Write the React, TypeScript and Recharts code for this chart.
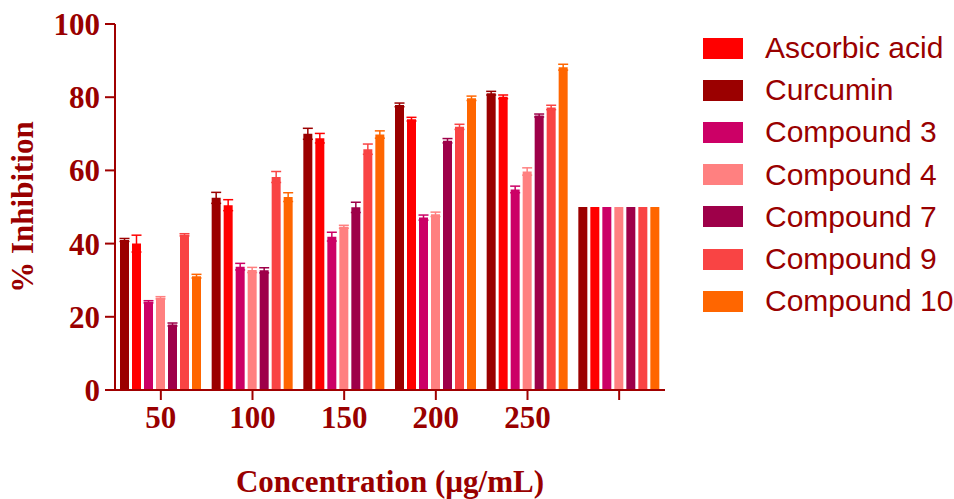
import React from "react";
import { BarChart, Bar, XAxis, YAxis, Legend, ErrorBar, Label } from "recharts";

const categories = ["50", "100", "150", "200", "250", ""];

// bar order left-to-right as drawn in the reference
const curcumin = [41.0, 52.5, 70.0, 77.9, 81.1, 50];
const curcuminErr = [0.4, 1.5, 1.5, 0.5, 0.5, 0];
const ascorbic = [40.0, 50.5, 68.8, 74.0, 80.1, 50];
const ascorbicErr = [2.3, 1.5, 1.3, 0.5, 0.5, 0];
const comp3 = [24.1, 33.7, 41.9, 47.1, 54.8, 50];
const comp3Err = [0.3, 0.9, 1.2, 0.7, 0.9, 0];
const comp4 = [25.2, 32.8, 44.6, 48.0, 59.7, 50];
const comp4Err = [0.3, 0.7, 0.4, 0.6, 1.0, 0];
const comp7 = [17.9, 32.7, 49.9, 68.1, 75.0, 50];
const comp7Err = [0.4, 0.7, 1.4, 0.6, 0.4, 0];
const comp9 = [42.4, 58.2, 65.8, 71.9, 77.2, 50];
const comp9Err = [0.3, 1.5, 1.4, 0.7, 0.6, 0];
const comp10 = [31.1, 52.7, 69.8, 79.7, 88.2, 50];
const comp10Err = [0.5, 1.2, 1.0, 0.6, 0.8, 0];

const yTicks = [0, 20, 40, 60, 80, 100];

const legendNames = ["Ascorbic acid", "Curcumin", "Compound 3", "Compound 4", "Compound 7", "Compound 9", "Compound 10"];
const legendColors = ["#FF0000", "#9B0000", "#CC0066", "#FF8080", "#9E0049", "#F94444", "#FF6600"];

const series = [
  { key: "cur", values: curcumin, errs: curcuminErr, color: "#9B0000" },
  { key: "asc", values: ascorbic, errs: ascorbicErr, color: "#FF0000" },
  { key: "c3", values: comp3, errs: comp3Err, color: "#CC0066" },
  { key: "c4", values: comp4, errs: comp4Err, color: "#FF8080" },
  { key: "c7", values: comp7, errs: comp7Err, color: "#9E0049" },
  { key: "c9", values: comp9, errs: comp9Err, color: "#F94444" },
  { key: "c10", values: comp10, errs: comp10Err, color: "#FF6600" },
];

const data = categories.map((c, i) => {
  const row: any = { cat: c };
  series.forEach((s) => {
    row[s.key] = s.values[i];
    row[s.key + "Err"] = s.errs[i];
  });
  return row;
});

const TEXT = "#990000";
const AXIS = "#A00000";
const serif = "'Liberation Serif', 'Times New Roman', serif";
const sans = "'Liberation Sans', Arial, sans-serif";

const LegendContent = () => (
  <div style={{ fontFamily: sans, textAlign: "left" }}>
    {legendNames.map((n, i) => (
      <div key={n} style={{ display: "flex", alignItems: "center", height: 42.2 }}>
        <div style={{ width: 40, height: 21, background: legendColors[i], marginRight: 22 }} />
        <span style={{ fontSize: 30, color: TEXT, lineHeight: "30px" }}>{n}</span>
      </div>
    ))}
  </div>
);

export default function App() {
  return (
    <div style={{ position: "fixed", left: 0, top: 0, width: 954, height: 499, background: "#fff" }}>
      <BarChart
        width={954}
        height={499}
        data={data}
        margin={{ top: 24, right: 289, bottom: 0, left: 0 }}
        barSize={9}
        barGap={3}
      >
        <XAxis
          dataKey="cat"
          height={109}
          interval={0}
          axisLine={{ stroke: AXIS, strokeWidth: 2 }}
          tickLine={{ stroke: AXIS, strokeWidth: 2 }}
          tickSize={10}
          tickMargin={6}
          tick={{ fill: TEXT, fontFamily: serif, fontWeight: "bold", fontSize: 31 }}
        >
          <Label
            value="Concentration (µg/mL)"
            position="insideBottom"
            offset={7}
            style={{ fill: TEXT, fontFamily: serif, fontWeight: "bold", fontSize: 31 }}
          />
        </XAxis>
        <YAxis
          width={115}
          domain={[0, 100]}
          ticks={yTicks}
          interval={0}
          axisLine={{ stroke: AXIS, strokeWidth: 2 }}
          tickLine={{ stroke: AXIS, strokeWidth: 2 }}
          tickSize={10}
          tickMargin={5}
          tick={{ fill: TEXT, fontFamily: serif, fontWeight: "bold", fontSize: 31 }}
        >
          <Label
            value="% Inhibition"
            angle={-90}
            position="insideLeft"
            offset={22}
            style={{ fill: TEXT, fontFamily: serif, fontWeight: "bold", fontSize: 31, textAnchor: "middle" }}
          />
        </YAxis>
        <Legend
          layout="horizontal"
          verticalAlign="middle"
          align="center"
          wrapperStyle={{ left: 703, top: 27, width: 251 }}
          content={<LegendContent />}
        />
        {series.map((s) => (
          <Bar key={s.key} dataKey={s.key} fill={s.color} isAnimationActive={false}>
            <ErrorBar dataKey={s.key + "Err"} direction="y" width={5} stroke={s.color} strokeWidth={1.5} />
          </Bar>
        ))}
      </BarChart>
    </div>
  );
}
